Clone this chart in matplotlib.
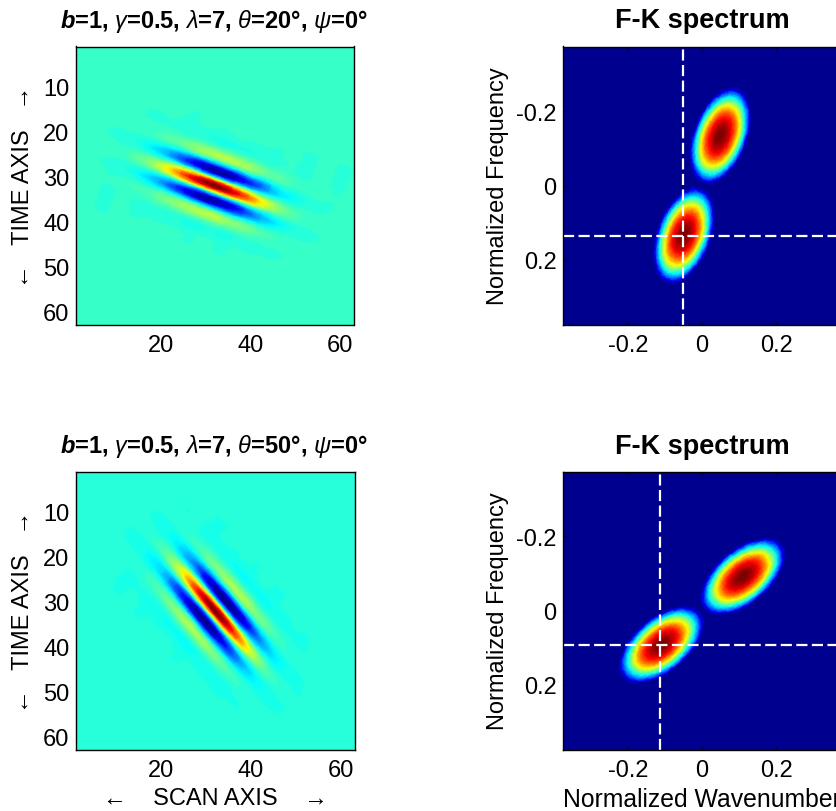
"""
Gabor filters at two dips with their F-K spectra.
"""
import numpy as np
from matplotlib import pyplot as plt
from matplotlib.colors import LinearSegmentedColormap, Normalize
from matplotlib.tri import Triangulation, UniformTriRefiner

plt.rcParams['font.family'] = ['Liberation Sans', 'DejaVu Sans']
plt.rcParams['mathtext.fontset'] = 'custom'
plt.rcParams['mathtext.it'] = 'Liberation Sans:italic'
plt.rcParams['mathtext.bfit'] = 'Liberation Sans:italic:bold'
plt.rcParams['mathtext.rm'] = 'Liberation Sans'

# filter amplitude, read in the frame of the stripes (one quadrant, mirrored later)
gabor_across = [0, .875, 1.75, 2.625, 3.5, 4.375, 5.25, 6.125, 7, 7.875, 8.75, 9.625,
                10.5, 11.375, 12.25, 13.125, 14]
gabor_along = [0, 4, 8, 12, 16, 20, 24, 28]
gabor_amp = [
    [1, .69, 0, -.566, -.673, -.381, 0, .211, .205, .095, 0, -.0355, -.0284, -.0108, 0, .0027, .0018],
    [.879, .606, 0, -.497, -.592, -.335, 0, .185, .18, .0835, 0, -.0312, -.025, -.0095, 0, .0024, .0016],
    [.597, .412, 0, -.338, -.402, -.227, 0, .126, .122, .0567, 0, -.0212, -.017, -.0064, 0, .0016, .0011],
    [.313, .216, 0, -.177, -.211, -.119, 0, .066, .064, .0297, 0, -.0111, -.0089, -.0034, 0, .0008, .0006],
    [.127, .0876, 0, -.0719, -.0855, -.0484, 0, .0268, .026, .0121, 0, -.0045, -.0036, -.0014, 0, .0003, .0002],
    [.04, .0276, 0, -.0226, -.0269, -.0152, 0, .0084, .0082, .0038, 0, -.0014, -.0011, -.0004, 0, .0001, .0001],
    [.0097, .0067, 0, -.0055, -.0065, -.0037, 0, .002, .002, .0009, 0, -.0003, -.0003, -.0001, 0, 0, 0],
    [0, 0, 0, 0, 0, 0, 0, 0, 0, 0, 0, 0, 0, 0, 0, 0, 0],
]

# spectrum blob, read along its long and short axes (one quadrant, mirrored later)
blob_long = [0, .0137, .0274, .0411, .0548, .0685, .0822, .0959, .1096, .1233, .137, .1507]
blob_short = [0, .0074, .0148, .0222, .0296, .037, .0444, .0518, .0592, .0666, .074, .0814]
blob_amp = [
    [1, .99, .96, .91, .84, .75, .64, .51, .36, .19, 0, 0],
    [.99, .98, .95, .90, .83, .74, .63, .50, .35, .18, 0, 0],
    [.96, .95, .92, .87, .80, .71, .60, .47, .32, .15, 0, 0],
    [.91, .90, .87, .82, .75, .66, .55, .42, .27, .10, 0, 0],
    [.84, .83, .80, .75, .68, .59, .48, .35, .20, .03, 0, 0],
    [.75, .74, .71, .66, .59, .50, .39, .26, .11, 0, 0, 0],
    [.64, .63, .60, .55, .48, .39, .28, .15, 0, 0, 0, 0],
    [.51, .50, .47, .42, .35, .26, .15, .02, 0, 0, 0, 0],
    [.36, .35, .32, .27, .20, .11, 0, 0, 0, 0, 0, 0],
    [.19, .18, .15, .10, .03, 0, 0, 0, 0, 0, 0, 0],
    [0, 0, 0, 0, 0, 0, 0, 0, 0, 0, 0, 0],
    [0, 0, 0, 0, 0, 0, 0, 0, 0, 0, 0, 0],
]

thetas = [20, 50]
gabor_vmin = [-.7326, -.6869]
titles = [r'$\mathbfit{b}$=1, $\gamma$=0.5, $\lambda$=7, $\theta$=20°, $\psi$=0°',
          r'$\mathbfit{b}$=1, $\gamma$=0.5, $\lambda$=7, $\theta$=50°, $\psi$=0°']
blob_k = [.049, .110]
blob_f = [-.134, -.092]
cross_k = [-.05, -.112]
cross_f = [.135, .094]

x_ticks_left = [20, 40, 60]
y_ticks_left = [10, 20, 30, 40, 50, 60]
ticks_right = [-.2, 0, .2]
tick_labels_right = ['-0.2', '0', '0.2']

FONT_SIZE = 17
W, H = 836, 812

jet = LinearSegmentedColormap.from_list(
    'matlab_jet', [(0, (0, 0, .5625)), (.125, (0, 0, 1)), (.375, (0, 1, 1)),
                   (.625, (1, 1, 0)), (.875, (1, 0, 0)), (1, (.5, 0, 0))], N=64)


def mirror(along, across, quadrant):
    """Unfold one quadrant into the full table."""
    quadrant = np.array(quadrant, dtype=float)
    full = np.vstack([quadrant[:0:-1], quadrant])
    full = np.hstack([full[:, :0:-1], full])
    along = np.r_[-np.array(along[:0:-1]), along]
    across = np.r_[-np.array(across[:0:-1]), across]
    return along, across, full


def draw_table(ax, along, across, values, x_axis, y_axis, centre, cmap, norm):
    """Put a table sampled in a rotated frame on the axes, smoothed by the refiner."""
    a, c = np.meshgrid(along, across, indexing='ij')
    x = centre[0] + a * x_axis[0] + c * y_axis[0]
    y = centre[1] + a * x_axis[1] + c * y_axis[1]
    tri = Triangulation(x.ravel(), y.ravel())
    fine, fine_z = UniformTriRefiner(tri).refine_field(values.ravel(), subdiv=2)
    ax.tripcolor(fine, fine_z, shading='gouraud', cmap=cmap, norm=norm)


def make_axes(left, top, right, bottom):
    """Axes from pixel edges of the figure."""
    return fig.add_axes([left / W, 1 - bottom / H, (right - left) / W, (bottom - top) / H])


def style_axes(ax, length):
    ax.tick_params(direction='in', length=length, width=.5, top=True, right=True,
                   labelsize=FONT_SIZE)
    ax.tick_params(axis='x', pad=6.5)
    ax.tick_params(axis='y', pad=4.5)
    for spine in ax.spines.values():
        spine.set_linewidth(1.0)


fig = plt.figure(figsize=(W / 100, H / 100), dpi=100)

gabor_table = mirror(gabor_along, gabor_across, gabor_amp)
blob_table = mirror(blob_long, blob_short, blob_amp)
tops = [47.5, 472.5]

for i, theta in enumerate(thetas):
    rad = np.deg2rad(theta)
    top = tops[i]

    # filter panel
    ax = make_axes(75.5, top, 353.5 + i, top + 278)
    norm = Normalize(vmin=gabor_vmin[i], vmax=1)
    ax.set_facecolor(jet(norm(0)))
    draw_table(ax, *gabor_table, (np.cos(rad), np.sin(rad)), (-np.sin(rad), np.cos(rad)),
               (32, 32), jet, norm)
    ax.set_xlim(1, 63)
    ax.set_ylim(63, 1)
    ax.set_xticks(x_ticks_left)
    ax.set_yticks(y_ticks_left)
    style_axes(ax, 0)
    ax.set_title(titles[i], fontsize=17, fontweight='bold', pad=14, x=.497)
    ax.set_ylabel('←   TIME AXIS   →', fontsize=FONT_SIZE)
    ax.yaxis.set_label_coords(-.15, .5)
    if i == 1:
        ax.set_xlabel('←    SCAN AXIS    →', fontsize=FONT_SIZE)
        ax.xaxis.set_label_coords(.5, -.135)

    # spectrum panel, right edge runs off the figure
    ax = make_axes(563, top, 841, top + 278)
    norm = Normalize(vmin=0, vmax=1)
    ax.set_facecolor(jet(0))
    long_axis = (np.sin(rad), -np.cos(rad))
    short_axis = (np.cos(rad), np.sin(rad))
    draw_table(ax, *blob_table, long_axis, short_axis, (blob_k[i], blob_f[i]), jet, norm)
    draw_table(ax, *blob_table, long_axis, short_axis, (-blob_k[i], -blob_f[i]), jet, norm)
    ax.axvline(cross_k[i], color='white', lw=1.6, ls=(0, (5, 2)))
    ax.axhline(cross_f[i], color='white', lw=1.6, ls=(0, (5, 2)))
    ax.set_xlim(-.375, .375)
    ax.set_ylim(.375, -.375)
    ax.set_xticks(ticks_right, tick_labels_right)
    ax.set_yticks(ticks_right, tick_labels_right)
    style_axes(ax, 2.5)
    ax.set_title('F-K spectrum', fontsize=19.5, fontweight='bold', pad=14 - i)
    ax.set_ylabel('Normalized Frequency', fontsize=FONT_SIZE)
    ax.yaxis.set_label_coords(-.194, .5)
    if i == 1:
        ax.set_xlabel('Normalized Wavenumber', fontsize=17.8)
        ax.xaxis.set_label_coords(.5, -.135)

plt.savefig('out.png', dpi=100)
